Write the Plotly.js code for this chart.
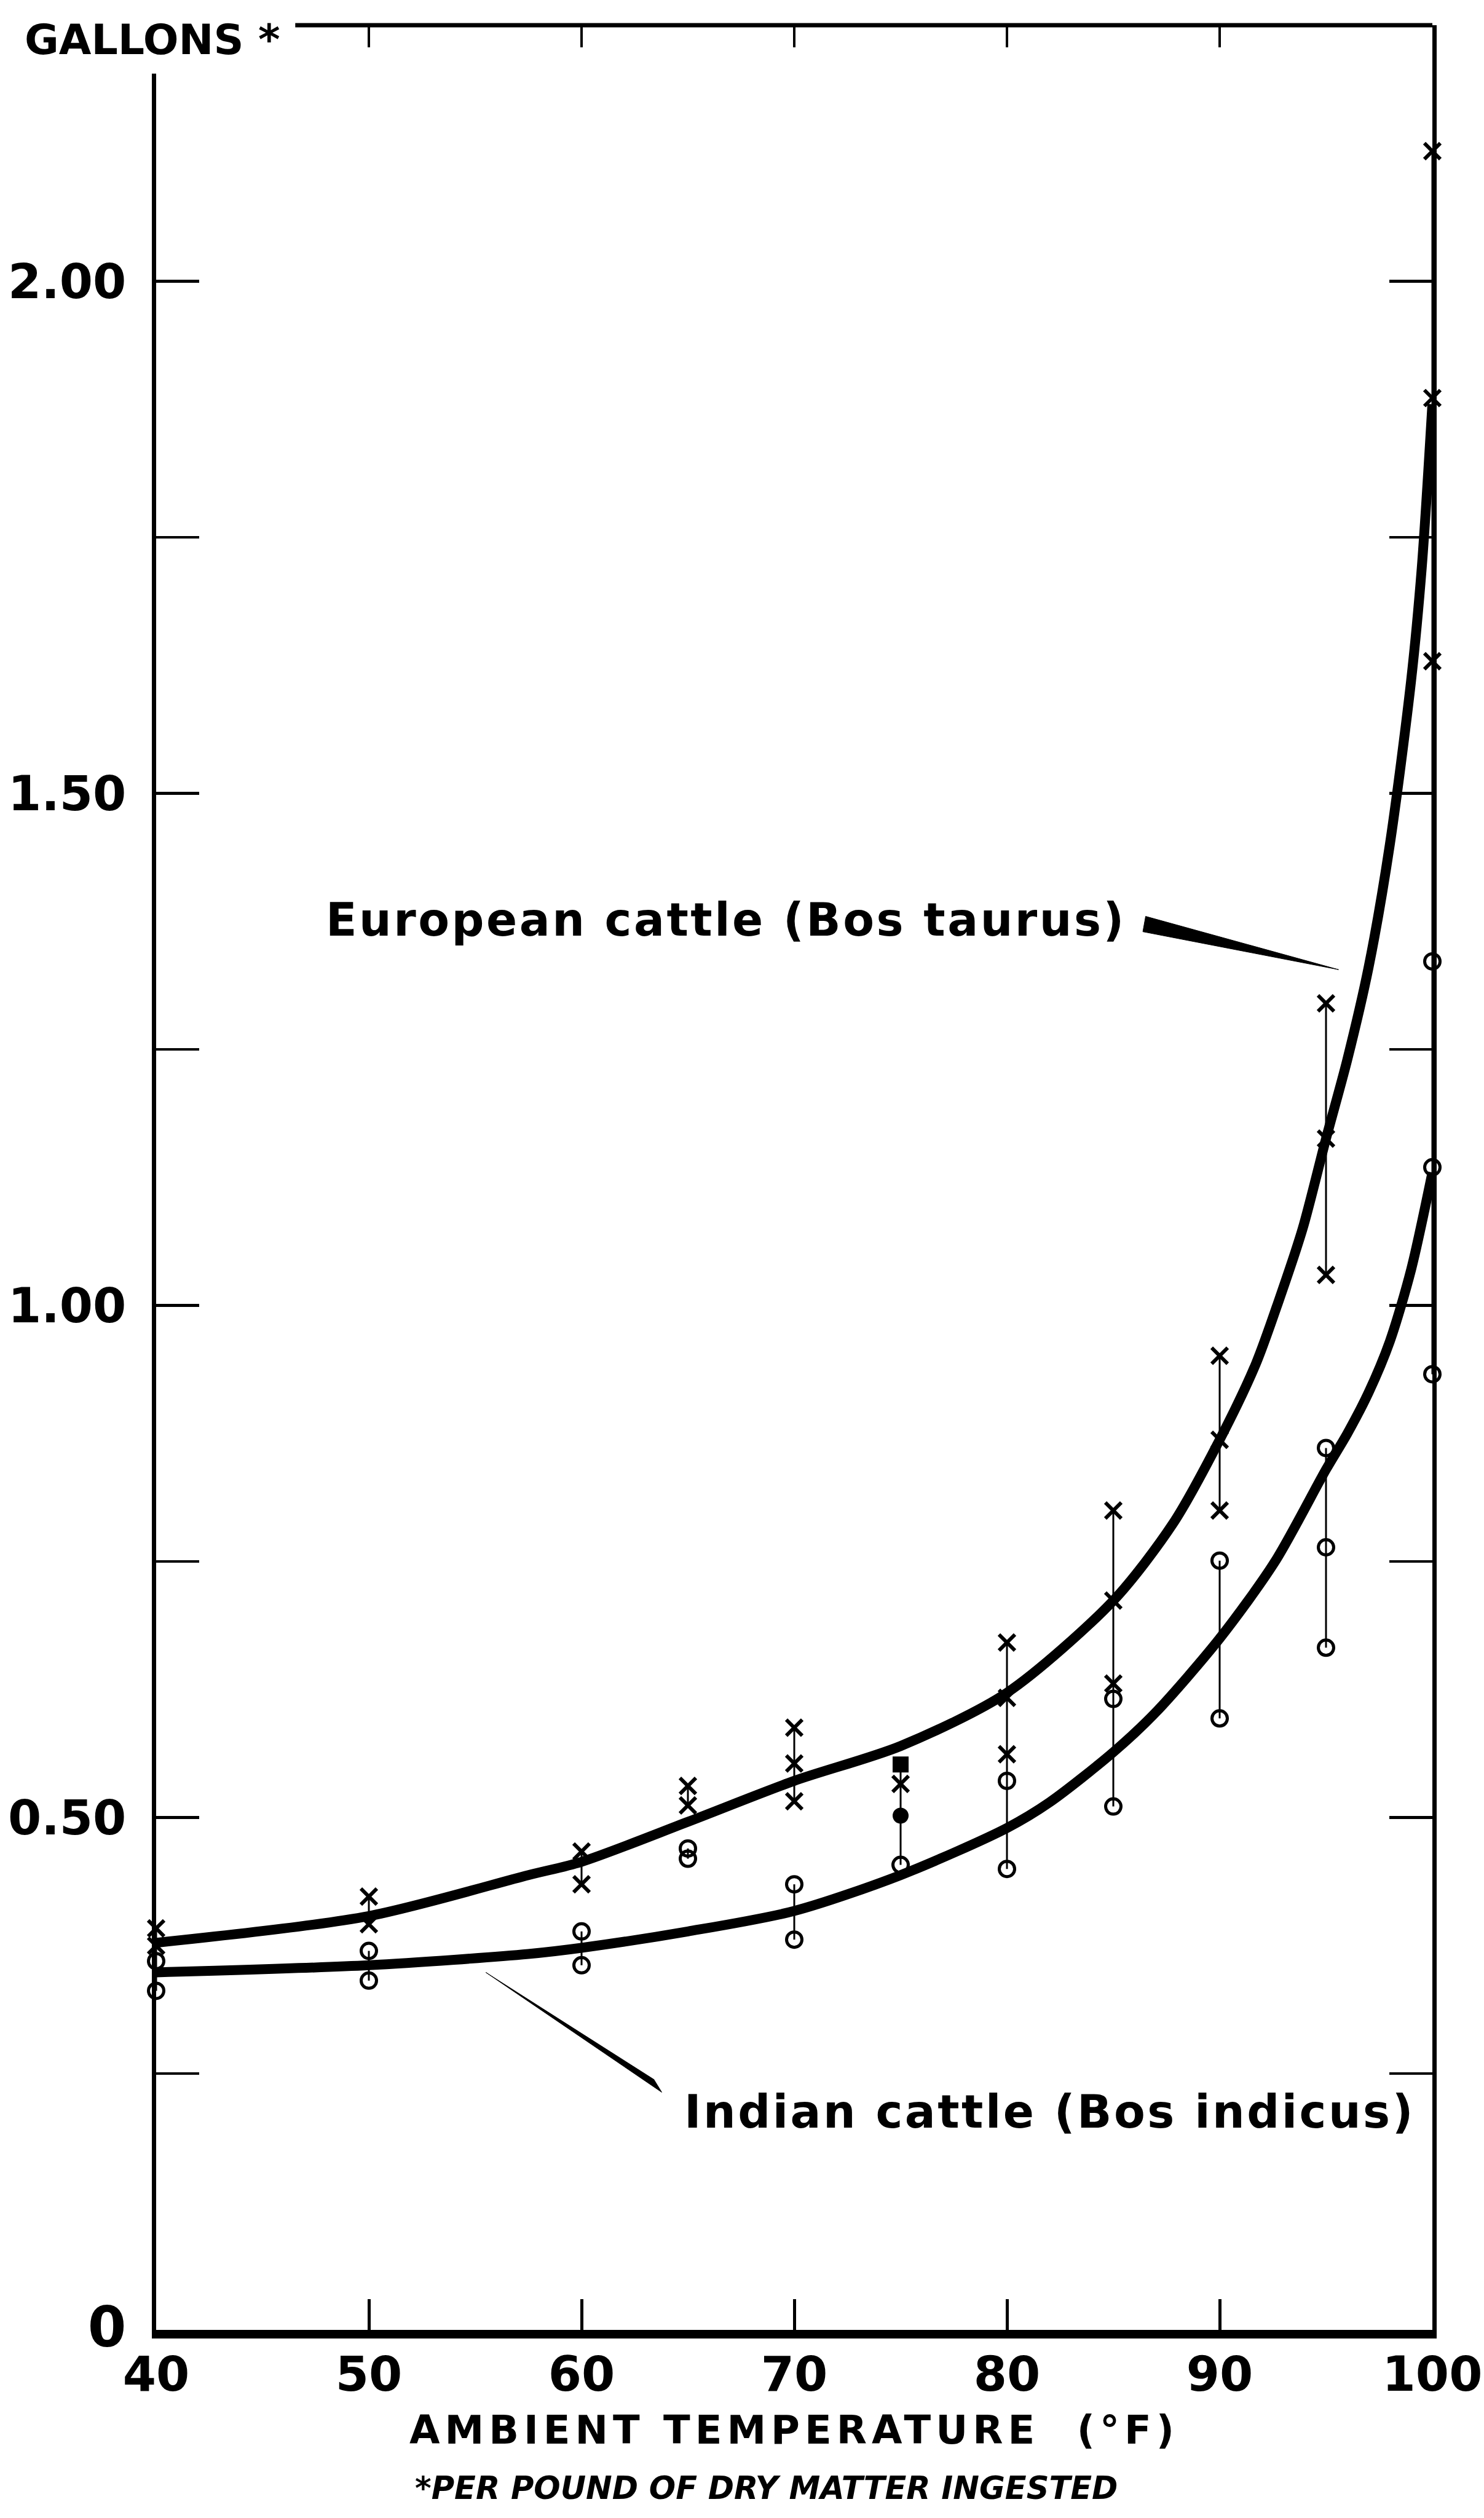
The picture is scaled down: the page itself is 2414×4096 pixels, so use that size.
<!DOCTYPE html>
<html>
<head>
<meta charset="utf-8">
<script src="https://cdn.plot.ly/plotly-3.0.1.min.js"></script>
<style>
  html, body { margin: 0; padding: 0; background: #ffffff; }
  #chart { width: 2414px; height: 4096px; }
</style>
</head>
<body>
<div id="chart"></div>
<script>
// ---------------- DATA ----------------
const xTickVals = [40, 50, 60, 70, 80, 90, 100];
const xTickText = ['40', '50', '60', '70', '80', '90', '100'];
const yTickVals = [0, 0.5, 1.0, 1.5, 2.0];
const yTickText = ['<span style="font-size:90px">0</span>', '0.50', '1.00', '1.50', '2.00'];

// Fitted curves
const euroCurveT = [40, 50, 57.5, 60, 65, 70, 75, 80, 85, 87.8, 90, 91.7, 92.8, 93.9, 95, 96, 97, 98, 99, 99.5, 100];
const euroCurveV = [0.378, 0.404, 0.444, 0.457, 0.496, 0.536, 0.570, 0.622, 0.712, 0.787, 0.869, 0.943, 1.006, 1.075, 1.163, 1.240, 1.330, 1.450, 1.610, 1.720, 1.880];
const indianCurveT = [40, 50, 57.5, 60, 65, 70, 75, 80, 82, 85, 87, 90, 92.6, 95, 96, 97, 98, 99, 100];
const indianCurveV = [0.349, 0.356, 0.367, 0.373, 0.389, 0.409, 0.444, 0.490, 0.515, 0.564, 0.603, 0.675, 0.750, 0.840, 0.875, 0.915, 0.965, 1.035, 1.130];

// Observations: European cattle (x)
const euroTemp = [40, 40, 50, 50, 60, 60, 65, 65, 70, 70, 70, 75, 80, 80, 80, 85, 85, 85, 90, 90, 90, 95, 95, 95, 100, 100, 100];
const euroVal  = [0.392, 0.375, 0.423, 0.396, 0.467, 0.435, 0.531, 0.512, 0.588, 0.553, 0.516, 0.533, 0.671, 0.617, 0.562, 0.800, 0.712, 0.631, 0.951, 0.869, 0.800, 1.295, 1.163, 1.030, 2.127, 1.886, 1.629];

// Observations: Indian cattle (o)
const indianTemp = [40, 40, 50, 50, 60, 60, 65, 65, 70, 70, 75, 80, 80, 85, 85, 90, 90, 95, 95, 95, 100, 100, 100];
const indianVal  = [0.360, 0.331, 0.370, 0.341, 0.389, 0.356, 0.470, 0.460, 0.435, 0.381, 0.454, 0.536, 0.450, 0.616, 0.511, 0.751, 0.597, 0.861, 0.764, 0.666, 1.336, 1.135, 0.933];

// Filled marks at 75 °F
const filledTemp = [75, 75];
const filledVal  = [0.552, 0.502];

// Vertical range lines joining the marks
const whiskerTemp = [40, 50, 50, 60, 60, 65, 65, 70, 70, 75, 80, 85, 90, 90, 95, 95, 100];
const whiskerLow  = [0.331, 0.396, 0.341, 0.435, 0.356, 0.512, 0.460, 0.516, 0.381, 0.454, 0.450, 0.511, 0.800, 0.597, 1.030, 0.666, 0.933];
const whiskerHigh = [0.392, 0.423, 0.370, 0.467, 0.389, 0.531, 0.470, 0.588, 0.435, 0.552, 0.671, 0.800, 0.951, 0.751, 1.295, 0.861, 2.127];

// Text
const yUnitLabel = 'GALLONS *';
const xTitle = 'AMBIENT TEMPERATURE  (°F)';
const footnote = '*PER POUND OF DRY MATTER INGESTED';
const euroLabel = 'European cattle (Bos taurus)';
const indianLabel = 'Indian cattle (Bos indicus)';

// ---------------- BUILD ----------------
const wx = [], wy = [];
for (let i = 0; i < whiskerTemp.length; i++) {
  wx.push(whiskerTemp[i], whiskerTemp[i], null);
  wy.push(whiskerLow[i], whiskerHigh[i], null);
}
const spaced = (s, px) => '<span style="letter-spacing:' + px + 'px">' + s + '</span>';

const INK = '#000000';
const FONT = 'DejaVu Sans, Liberation Sans, sans-serif';

const traces = [
  { type: 'scatter', mode: 'lines', x: wx, y: wy, line: { color: INK, width: 3 }, hoverinfo: 'skip', showlegend: false },
  { type: 'scatter', mode: 'lines', x: euroCurveT, y: euroCurveV, name: 'European cattle (Bos taurus)',
    line: { color: INK, width: 16, shape: 'spline', smoothing: 0.8 }, showlegend: false },
  { type: 'scatter', mode: 'lines', x: indianCurveT, y: indianCurveV, name: 'Indian cattle (Bos indicus)',
    line: { color: INK, width: 16, shape: 'spline', smoothing: 0.8 }, showlegend: false },
  { type: 'scatter', mode: 'markers', x: euroTemp, y: euroVal, name: 'European (x)',
    marker: { symbol: 'x-thin', size: 26, color: INK, line: { color: INK, width: 6 } }, showlegend: false, cliponaxis: false },
  { type: 'scatter', mode: 'markers', x: indianTemp, y: indianVal, name: 'Indian (o)',
    marker: { symbol: 'circle-open', size: 25, color: INK, line: { color: INK, width: 5 } }, showlegend: false, cliponaxis: false },
  { type: 'scatter', mode: 'markers', x: filledTemp, y: filledVal, name: 'filled',
    marker: { symbol: ['square', 'circle'], size: 24, color: INK, line: { color: INK, width: 2 } }, showlegend: false },
  { type: 'scatter', mode: 'markers', x: [], y: [], xaxis: 'x2', yaxis: 'y', showlegend: false, hoverinfo: 'skip' }
];

const layout = {
  width: 2414,
  height: 4096,
  paper_bgcolor: '#ffffff',
  plot_bgcolor: '#ffffff',
  margin: { l: 254, r: 84, t: 41, b: 306, pad: 0 },
  showlegend: false,
  font: { family: FONT, color: INK },
  xaxis: {
    range: [40, 100],
    tickvals: xTickVals,
    ticktext: xTickText,
    ticks: 'inside',
    ticklen: 50,
    tickwidth: 5,
    tickcolor: INK,
    showline: true,
    linewidth: 14,
    linecolor: INK,
    mirror: false,
    showgrid: false,
    zeroline: false,
    automargin: false,
    ticklabelstandoff: -9,
    tickfont: { family: FONT, size: 78, color: INK, weight: 'bold' },
    title: { text: spaced(xTitle, 8), font: { family: FONT, size: 64, color: INK, weight: 'bold' }, standoff: 31 }
  },
  xaxis2: {
    overlaying: 'x',
    anchor: 'y',
    side: 'top',
    range: [40, 100],
    tickvals: [50, 60, 70, 80, 90],
    ticks: 'inside',
    ticklen: 36,
    tickwidth: 4,
    tickcolor: INK,
    showticklabels: false,
    showline: false,
    showgrid: false,
    zeroline: false
  },
  yaxis: {
    range: [0, 2.25],
    tickvals: yTickVals,
    ticktext: yTickText,
    ticks: 'inside',
    ticklen: 70,
    tickwidth: 5,
    tickcolor: INK,
    minor: { dtick: 0.25, tick0: 0, ticks: 'inside', ticklen: 40, tickwidth: 4, tickcolor: INK, showgrid: false },
    showline: true,
    linewidth: 7,
    linecolor: INK,
    mirror: 'allticks',
    showgrid: false,
    zeroline: false,
    automargin: false,
    ticklabelstandoff: 26,
    tickfont: { family: FONT, size: 78, color: INK, weight: 'bold' }
  },
  shapes: [
    // open corner at top-left: hide the top of the left axis
    { type: 'rect', xref: 'paper', yref: 'paper', x0: -0.012, x1: 0.012, y0: 0.979, y1: 1.02,
      fillcolor: '#ffffff', line: { width: 0 }, layer: 'above' },
    // top frame line (starts right of the unit label)
    { type: 'line', xref: 'paper', yref: 'paper', x0: 0.109, x1: 1.0, y0: 1, y1: 1,
      line: { color: INK, width: 7 }, layer: 'above' },
    // wedge pointer for European label
    { type: 'path', xref: 'x', yref: 'y', path: 'M 86.39,1.365 L 86.52,1.380 L 95.59,1.328 Z',
      fillcolor: INK, line: { color: INK, width: 1 } },
    // wedge pointer for Indian label
    { type: 'path', xref: 'x', yref: 'y', path: 'M 55.5,0.349 L 63.40,0.2445 L 63.77,0.2320 Z',
      fillcolor: INK, line: { color: INK, width: 1 } }
  ],
  annotations: [
    { text: yUnitLabel, xref: 'paper', yref: 'paper', x: -0.1039, y: 0.9936, xanchor: 'left', yanchor: 'middle',
      showarrow: false, font: { family: FONT, size: 68, color: INK, weight: 'bold' } },
    { text: spaced(euroLabel, 3.5), xref: 'x', yref: 'y', x: 66.8, y: 1.377, xanchor: 'center', yanchor: 'middle',
      showarrow: false, font: { family: FONT, size: 74, color: INK, weight: 'bold' } },
    { text: spaced(indianLabel, 3.5), xref: 'x', yref: 'y', x: 82.0, y: 0.213, xanchor: 'center', yanchor: 'middle',
      showarrow: false, font: { family: FONT, size: 74, color: INK, weight: 'bold' } },
    { text: footnote, xref: 'paper', yref: 'paper', x: 0.478, y: -0.0688, xanchor: 'center', yanchor: 'middle',
      showarrow: false, font: { family: FONT, size: 51, color: INK, weight: 'bold', style: 'italic' } }
  ]
};

Plotly.newPlot('chart', traces, layout, { staticPlot: true, displayModeBar: false });
</script>
</body>
</html>
